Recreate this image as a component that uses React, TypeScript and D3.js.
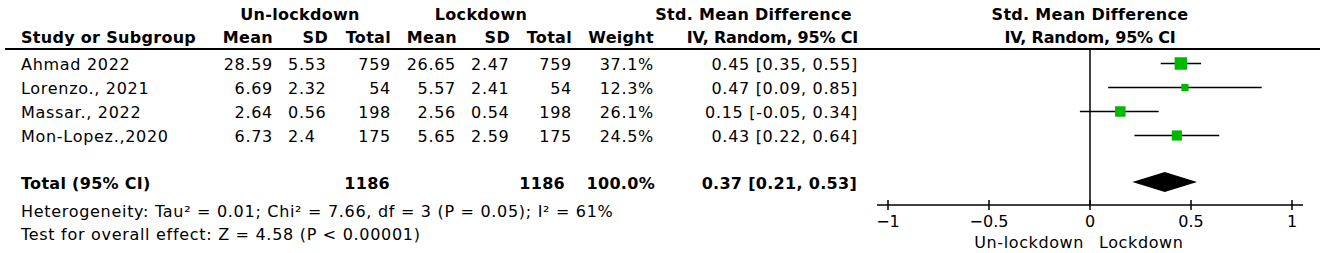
import React from "react";
import * as d3 from "d3";

const studies = ["Ahmad 2022", "Lorenzo., 2021", "Massar., 2022", "Mon-Lopez.,2020"];
const unMean = ["28.59", "6.69", "2.64", "6.73"];
const unSD = ["5.53", "2.32", "0.56", "2.4"];
const unTotal = [759, 54, 198, 175];
const lkMean = ["26.65", "5.57", "2.56", "5.65"];
const lkSD = ["2.47", "2.41", "0.54", "2.59"];
const lkTotal = [759, 54, 198, 175];
const weights = [37.1, 12.3, 26.1, 24.5];
const smd = [0.45, 0.47, 0.15, 0.43];
const ciLow = [0.35, 0.09, -0.05, 0.22];
const ciHigh = [0.55, 0.85, 0.34, 0.64];
const pooledEst = 0.37;
const pooledLow = 0.21;
const pooledHigh = 0.53;
const totalUn = 1186;
const totalLk = 1186;
const totalWeight = "100.0%";
const axisTicks = [-1, -0.5, 0, 0.5, 1];
const heterogeneityText = "Heterogeneity: Tau\u00b2 = 0.01; Chi\u00b2 = 7.66, df = 3 (P = 0.05); I\u00b2 = 61%";
const overallText = "Test for overall effect: Z = 4.58 (P < 0.00001)";

const FONT = "'DejaVu Sans', Verdana, sans-serif";

export default function App() {
  const x = d3.scaleLinear().domain([-1, 1]).range([888, 1292]);
  const rowY = d3.scalePoint<number>().domain(d3.range(studies.length)).range([63.5, 135.5]);
  const size = d3.scaleSqrt().domain([0, 37.1]).range([0, 12.5]);
  const f2 = (v: number) => d3.format(".2f")(v).replace("\u2212", "-");
  const fmtCI = (e: number, l: number, h: number) => `${f2(e)} [${f2(l)}, ${f2(h)}]`;
  const fmtTick = (v: number) => d3.format("")(v).replace("-", "\u2212");

  const totalY = 182;
  const axisY = 205;
  const dy = 6.5;
  const reg = { fontSize: 16, letterSpacing: 0.7 } as const;
  const bold = { fontSize: 16, fontWeight: 700, letterSpacing: 0.3 } as const;

  return (
    <svg
      width={1325}
      height={253}
      style={{ position: "absolute", left: 0, top: 0, background: "#fff" }}
      fontFamily={FONT}
      fill="#000"
    >
      {/* header row 1 */}
      <g {...bold} textAnchor="middle">
        <text x={300} y={20}>Un-lockdown</text>
        <text x={481} y={20}>Lockdown</text>
        <text x={852} y={20} textAnchor="end">Std. Mean Difference</text>
        <text x={1090} y={20}>Std. Mean Difference</text>
        <text x={1090} y={43} letterSpacing={-0.2}>IV, Random, 95% CI</text>
      </g>
      {/* header row 2 */}
      <g {...bold}>
        <text x={21} y={43}>Study or Subgroup</text>
        <text x={273} y={43} textAnchor="end">Mean</text>
        <text x={328} y={43} textAnchor="end">SD</text>
        <text x={391} y={43} textAnchor="end">Total</text>
        <text x={457} y={43} textAnchor="end">Mean</text>
        <text x={510} y={43} textAnchor="end">SD</text>
        <text x={572} y={43} textAnchor="end">Total</text>
        <text x={654} y={43} textAnchor="end">Weight</text>
        <text x={858} y={43} textAnchor="end" letterSpacing={-0.2}>IV, Random, 95% CI</text>
      </g>
      <line x1={5} x2={1320} y1={49} y2={49} stroke="#000" strokeWidth={2} />

      {/* study rows */}
      <g {...reg}>
        {studies.map((s, i) => {
          const y = rowY(i)! + dy;
          return (
            <g key={s}>
              <text x={21} y={y}>{s}</text>
              <text x={273} y={y} textAnchor="end">{unMean[i]}</text>
              <text x={288} y={y}>{unSD[i]}</text>
              <text x={391} y={y} textAnchor="end">{unTotal[i]}</text>
              <text x={456} y={y} textAnchor="end">{lkMean[i]}</text>
              <text x={471} y={y}>{lkSD[i]}</text>
              <text x={572} y={y} textAnchor="end">{lkTotal[i]}</text>
              <text x={654} y={y} textAnchor="end">{weights[i].toFixed(1)}%</text>
              <text x={858} y={y} textAnchor="end">{fmtCI(smd[i], ciLow[i], ciHigh[i])}</text>
            </g>
          );
        })}
      </g>

      {/* total row */}
      <g {...bold}>
        <text x={21} y={totalY + dy}>Total (95% CI)</text>
        <text x={390} y={totalY + dy} textAnchor="end">{totalUn}</text>
        <text x={565} y={totalY + dy} textAnchor="end">{totalLk}</text>
        <text x={655} y={totalY + dy} textAnchor="end">{totalWeight}</text>
        <text x={857} y={totalY + dy} textAnchor="end">{fmtCI(pooledEst, pooledLow, pooledHigh)}</text>
      </g>
      <g {...reg}>
        <text x={21} y={217}>{heterogeneityText}</text>
        <text x={21} y={240}>{overallText}</text>
      </g>

      {/* forest plot */}
      <line x1={x(0)} x2={x(0)} y1={49} y2={axisY} stroke="#000" strokeWidth={1.5} />
      {studies.map((s, i) => {
        const y = rowY(i)!;
        const w = size(weights[i]);
        return (
          <g key={"p" + s}>
            <line x1={x(ciLow[i])} x2={x(ciHigh[i])} y1={y} y2={y} stroke="#000" strokeWidth={1.5} />
            <rect x={x(smd[i]) - w / 2} y={y - w / 2} width={w} height={w} fill="#00b800" />
          </g>
        );
      })}
      <path
        d={`M${x(pooledLow)},${totalY} L${x(pooledEst)},${totalY - 10} L${x(pooledHigh)},${totalY} L${x(pooledEst)},${totalY + 10} Z`}
        fill="#000"
      />

      {/* axis */}
      <line x1={877} x2={1303} y1={axisY} y2={axisY} stroke="#000" strokeWidth={1.5} />
      <g fontSize={16}>
        {axisTicks.map((t) => (
          <g key={t}>
            <line x1={x(t)} x2={x(t)} y1={axisY - 5} y2={axisY + 5} stroke="#000" strokeWidth={1.5} />
            <text x={x(t)} y={227} textAnchor="middle">{fmtTick(t)}</text>
          </g>
        ))}
        <text x={x(0) - 6} y={248} textAnchor="end" letterSpacing={0.6}>Un-lockdown</text>
        <text x={x(0) + 9} y={248} textAnchor="start" letterSpacing={0.6}>Lockdown</text>
      </g>
    </svg>
  );
}
